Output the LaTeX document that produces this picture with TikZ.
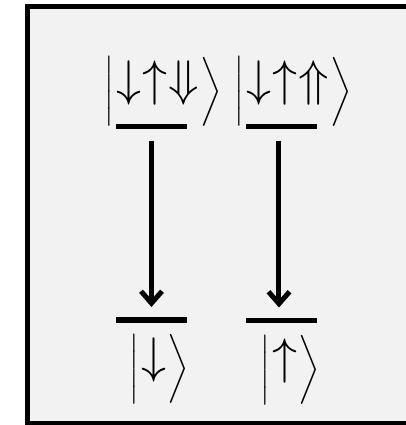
\documentclass[tikz,border=0pt]{standalone}
\usepackage{fix-cm}
\usepackage{amsmath}
\usepackage{tikz}
\usetikzlibrary{arrows.meta}
\definecolor{panel}{HTML}{F2F2F2}
\tikzstyle{level} = [rectangle, fill=black, inner sep=0pt, minimum width=35.5pt, minimum height=2.6pt]
\tikzstyle{ket} = [inner sep=0pt, text centered]
\tikzstyle{decay} = [line width=2.5pt, -{Straight Barb[length=6pt, width=10.5pt]}, shorten <=5.5pt, shorten >=5pt]
\newcommand{\spinket}[1]{{\fontsize{14.2}{16}\selectfont$\bigg|$}\kern1.2pt%
	\raisebox{1.8pt}{\fontsize{25}{28}\selectfont$#1$}\kern0.6pt%
	{\fontsize{14.2}{16}\selectfont$\bigg\rangle$}}

\begin{document}
\begin{tikzpicture}[x=0.5pt, y=-0.5pt]
		\path[use as bounding box] (0,0) rectangle (406,425);
		\clip (0,0) rectangle (406,425);
		\draw [line width=2.5pt, fill=panel] (27.5,6.5) rectangle (412,423.5);
		
		\node (levelA) [level] at (151.5,126.5) {};
		\node (levelB) [level] at (282,126.5) {};
		\node (levelC) [level] at (151.5,320) {};
		\node (levelD) [level] at (282,320.5) {};
		
		\node (ketA) [ket] at (163.5,91.5) {\spinket{\downarrow\kern0.6pt\uparrow\kern0.6pt\Downarrow}};
		\node (ketB) [ket] at (293,91.5) {\spinket{\downarrow\kern0.6pt\uparrow\kern0.6pt\Uparrow}};
		\node (ketC) [ket] at (159,369) {\spinket{\downarrow}};
		\node (ketD) [ket] at (290,370) {\spinket{\uparrow}};
		
		\draw [decay] (levelA) -- (levelC);
		\draw [decay] ([xshift=-1.5pt]levelB.south) -- ([xshift=-1.5pt]levelD.north);
	\end{tikzpicture}
\end{document}
